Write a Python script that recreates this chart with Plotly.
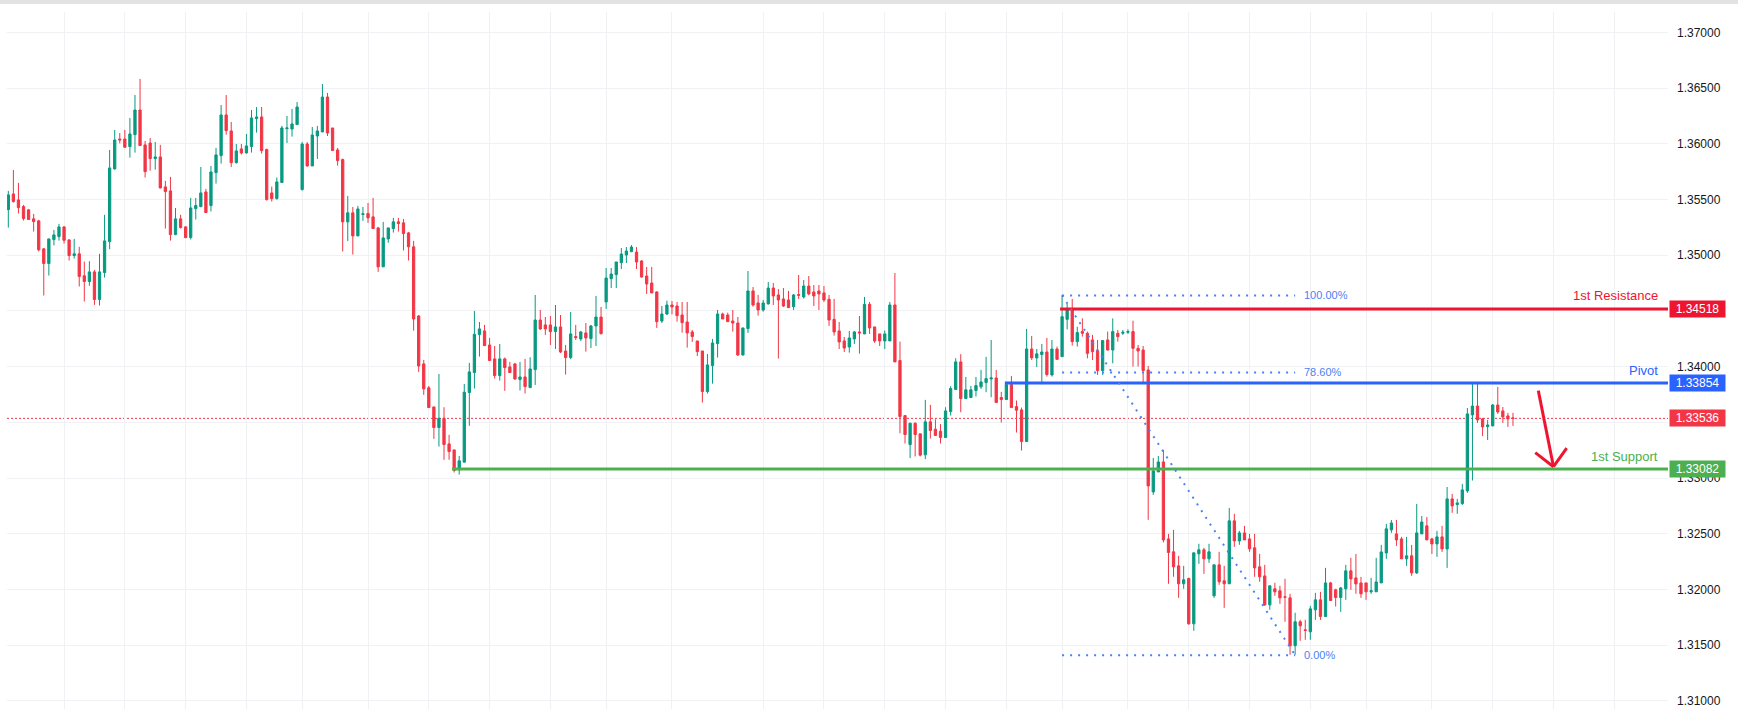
import plotly.graph_objects as go

# ---------------- data ----------------
opens = [
 1.35410, 1.35551, 1.35497, 1.35437, 1.35408, 1.35327, 1.35309, 1.35058, 1.34926, 1.35141,
 1.35168, 1.35255, 1.35138, 1.34998, 1.35013, 1.34816, 1.34765, 1.34851, 1.34603, 1.34845,
 1.35123, 1.35775, 1.36044, 1.36044, 1.35976, 1.36083, 1.36304, 1.35991, 1.36008, 1.35868,
 1.35883, 1.35614, 1.35578, 1.35186, 1.35327, 1.35255, 1.35159, 1.35419, 1.35437, 1.35569,
 1.35446, 1.35742, 1.35895, 1.36260, 1.36116, 1.35832, 1.35955, 1.35919, 1.35976, 1.36227,
 1.36242, 1.35949, 1.35560, 1.35509, 1.35653, 1.36137, 1.36134, 1.36173, 1.35590, 1.35999,
 1.35802, 1.36071, 1.36107, 1.36421, 1.36143, 1.35946, 1.35859, 1.35300, 1.35381, 1.35174,
 1.35366, 1.35375, 1.35345, 1.35246, 1.34896, 1.35147, 1.35240, 1.35300, 1.35291, 1.35201,
 1.35076, 1.34455, 1.34025, 1.33810, 1.33639, 1.33454, 1.33537, 1.33307, 1.33253, 1.33074,
 1.33143, 1.33768, 1.33947, 1.34288, 1.34321, 1.34195, 1.34070, 1.33920, 1.34070, 1.33998,
 1.34025, 1.33884, 1.33908, 1.33812, 1.33974, 1.34419, 1.34375, 1.34375, 1.34315, 1.34357,
 1.34141, 1.34082, 1.34270, 1.34249, 1.34303, 1.34252, 1.34366, 1.34446, 1.34581, 1.34790,
 1.34826, 1.34934, 1.35002, 1.35032, 1.35029, 1.34949, 1.34814, 1.34751, 1.34671, 1.34410,
 1.34473, 1.34554, 1.34545, 1.34464, 1.34401, 1.34312, 1.34231, 1.34141, 1.33777, 1.34010,
 1.34207, 1.34473, 1.34464, 1.34410, 1.34392, 1.34105, 1.34342, 1.34680, 1.34572, 1.34509,
 1.34563, 1.34706, 1.34644, 1.34608, 1.34599, 1.34539, 1.34647, 1.34626, 1.34724, 1.34671,
 1.34680, 1.34662, 1.34605, 1.34425, 1.34321, 1.34231, 1.34177, 1.34249, 1.34312, 1.34294,
 1.34560, 1.34357, 1.34294, 1.34231, 1.34231, 1.34554, 1.34055, 1.33561, 1.33301, 1.33493,
 1.33397, 1.33209, 1.33505, 1.33439, 1.33421, 1.33364, 1.33597, 1.33795, 1.34043, 1.33714,
 1.33723, 1.33786, 1.33819, 1.33857, 1.33890, 1.33899, 1.33723, 1.33705, 1.33839, 1.33642,
 1.33612, 1.33328, 1.34159, 1.34079, 1.34109, 1.34132, 1.33926, 1.34159, 1.34090, 1.34425,
 1.34515, 1.34225, 1.34315, 1.34300, 1.34240, 1.34144, 1.33965, 1.34240, 1.34150, 1.34300,
 1.34300, 1.34309, 1.34315, 1.34165, 1.34150, 1.33970, 1.32876, 1.33055, 1.33145, 1.32454,
 1.32338, 1.32212, 1.32051, 1.32099, 1.31692, 1.32320, 1.32356, 1.32275, 1.31943, 1.32221,
 1.32078, 1.32051, 1.32616, 1.32436, 1.32508, 1.32454, 1.32374, 1.32203, 1.32122, 1.31862,
 1.32006, 1.31988, 1.31934, 1.31925, 1.31495, 1.31710, 1.31638, 1.31620, 1.31817, 1.31907,
 1.31757, 1.32059, 1.31997, 1.31928, 1.32006, 1.32167, 1.32104, 1.32059, 1.32059, 1.31979,
 1.31979, 1.32059, 1.32328, 1.32535, 1.32499, 1.32454, 1.32275, 1.32302, 1.32149, 1.32499,
 1.32571, 1.32454, 1.32409, 1.32472, 1.32364, 1.32813, 1.32762, 1.32771, 1.32885, 1.33567,
 1.33647, 1.33531, 1.33462, 1.33468, 1.33656, 1.33603, 1.33558, 1.33540,
]
highs = [
 1.35578, 1.35766, 1.35650, 1.35452, 1.35416, 1.35372, 1.35318, 1.35064, 1.35147, 1.35228,
 1.35282, 1.35261, 1.35144, 1.35147, 1.35076, 1.34944, 1.34947, 1.34869, 1.35013, 1.35363,
 1.35946, 1.36125, 1.36098, 1.36125, 1.36233, 1.36439, 1.36583, 1.36026, 1.36053, 1.36017,
 1.35991, 1.35668, 1.35704, 1.35425, 1.35363, 1.35261, 1.35515, 1.35515, 1.35793, 1.35596,
 1.35802, 1.35964, 1.36349, 1.36439, 1.36197, 1.35999, 1.35999, 1.36089, 1.36304, 1.36331,
 1.36331, 1.35958, 1.35617, 1.35698, 1.36161, 1.36251, 1.36314, 1.36376, 1.36017, 1.36017,
 1.36152, 1.36161, 1.36538, 1.36457, 1.36143, 1.35964, 1.35868, 1.35533, 1.35434, 1.35443,
 1.35434, 1.35470, 1.35515, 1.35255, 1.35300, 1.35246, 1.35336, 1.35336, 1.35327, 1.35210,
 1.35129, 1.34464, 1.34061, 1.33827, 1.33639, 1.33935, 1.33636, 1.33388, 1.33253, 1.33199,
 1.33845, 1.34034, 1.34500, 1.34401, 1.34375, 1.34258, 1.34186, 1.34204, 1.34082, 1.34043,
 1.34034, 1.34043, 1.34070, 1.34085, 1.34644, 1.34509, 1.34446, 1.34455, 1.34554, 1.34464,
 1.34195, 1.34491, 1.34375, 1.34321, 1.34392, 1.34375, 1.34635, 1.34536, 1.34886, 1.34886,
 1.34940, 1.35065, 1.35074, 1.35092, 1.35074, 1.34958, 1.34895, 1.34895, 1.34677, 1.34545,
 1.34593, 1.34590, 1.34581, 1.34581, 1.34581, 1.34330, 1.34231, 1.34141, 1.34114, 1.34249,
 1.34509, 1.34485, 1.34485, 1.34509, 1.34446, 1.34348, 1.34859, 1.34715, 1.34644, 1.34599,
 1.34760, 1.34751, 1.34697, 1.34706, 1.34680, 1.34653, 1.34823, 1.34778, 1.34814, 1.34733,
 1.34733, 1.34724, 1.34644, 1.34608, 1.34401, 1.34267, 1.34321, 1.34321, 1.34455, 1.34626,
 1.34581, 1.34357, 1.34294, 1.34324, 1.34581, 1.34841, 1.34225, 1.33561, 1.33493, 1.33499,
 1.33397, 1.33702, 1.33657, 1.33528, 1.33484, 1.33636, 1.33825, 1.34076, 1.34112, 1.33908,
 1.33827, 1.33908, 1.33971, 1.34088, 1.34240, 1.33971, 1.33774, 1.33863, 1.33917, 1.33696,
 1.33633, 1.34339, 1.34276, 1.34159, 1.34204, 1.34258, 1.34240, 1.34180, 1.34643, 1.34563,
 1.34608, 1.34359, 1.34434, 1.34315, 1.34285, 1.34240, 1.34240, 1.34315, 1.34434, 1.34330,
 1.34330, 1.34335, 1.34413, 1.34195, 1.34186, 1.34007, 1.33181, 1.33199, 1.33253, 1.32499,
 1.32535, 1.32302, 1.32212, 1.32105, 1.32329, 1.32410, 1.32374, 1.32410, 1.32221, 1.32338,
 1.32212, 1.32732, 1.32679, 1.32526, 1.32571, 1.32499, 1.32499, 1.32320, 1.32221, 1.32033,
 1.32060, 1.32033, 1.32096, 1.31961, 1.31791, 1.31728, 1.31728, 1.31853, 1.31970, 1.31979,
 1.32194, 1.32068, 1.32006, 1.32023, 1.32221, 1.32284, 1.32319, 1.32113, 1.32059, 1.32104,
 1.32284, 1.32400, 1.32589, 1.32624, 1.32624, 1.32472, 1.32472, 1.32400, 1.32768, 1.32660,
 1.32651, 1.32463, 1.32526, 1.32571, 1.32920, 1.32858, 1.32813, 1.32948, 1.33629, 1.33845,
 1.33854, 1.33540, 1.33522, 1.33665, 1.33818, 1.33638, 1.33585, 1.33585,
]
lows = [
 1.35249, 1.35473, 1.35375, 1.35312, 1.35318, 1.35213, 1.35034, 1.34639, 1.34818, 1.35088,
 1.35132, 1.35105, 1.34953, 1.34971, 1.34720, 1.34585, 1.34726, 1.34555, 1.34549, 1.34800,
 1.35055, 1.35769, 1.36005, 1.35964, 1.35877, 1.35922, 1.35985, 1.35698, 1.35760, 1.35769,
 1.35599, 1.35240, 1.35132, 1.35180, 1.35240, 1.35153, 1.35141, 1.35321, 1.35431, 1.35384,
 1.35393, 1.35644, 1.35823, 1.36083, 1.35793, 1.35823, 1.35904, 1.35913, 1.35922, 1.36101,
 1.35913, 1.35491, 1.35482, 1.35500, 1.35653, 1.36008, 1.36065, 1.36173, 1.35581, 1.35796,
 1.35802, 1.35865, 1.36107, 1.36071, 1.35940, 1.35805, 1.35034, 1.35129, 1.35007, 1.35174,
 1.35309, 1.35291, 1.35240, 1.34851, 1.34896, 1.35112, 1.35204, 1.35213, 1.35043, 1.34953,
 1.34324, 1.33953, 1.33747, 1.33633, 1.33352, 1.33283, 1.33164, 1.33164, 1.33050, 1.33032,
 1.33143, 1.33469, 1.33804, 1.34091, 1.34189, 1.34055, 1.33893, 1.33875, 1.33783, 1.33947,
 1.33881, 1.33786, 1.33759, 1.33812, 1.33836, 1.34330, 1.34285, 1.34195, 1.34159, 1.34123,
 1.33929, 1.34067, 1.34240, 1.34231, 1.34135, 1.34168, 1.34186, 1.34288, 1.34518, 1.34706,
 1.34706, 1.34877, 1.34931, 1.35032, 1.34877, 1.34799, 1.34653, 1.34662, 1.34348, 1.34392,
 1.34464, 1.34470, 1.34404, 1.34306, 1.34171, 1.34222, 1.34096, 1.33678, 1.33759, 1.33848,
 1.34082, 1.34428, 1.34404, 1.34315, 1.34096, 1.34102, 1.34303, 1.34539, 1.34458, 1.34494,
 1.34560, 1.34554, 1.34073, 1.34536, 1.34530, 1.34509, 1.34608, 1.34611, 1.34641, 1.34545,
 1.34509, 1.34581, 1.34366, 1.34279, 1.34159, 1.34132, 1.34126, 1.34204, 1.34117, 1.34294,
 1.34294, 1.34213, 1.34186, 1.34159, 1.34231, 1.34043, 1.33403, 1.33310, 1.33179, 1.33194,
 1.33194, 1.33170, 1.33355, 1.33382, 1.33310, 1.33364, 1.33561, 1.33795, 1.33591, 1.33714,
 1.33720, 1.33732, 1.33801, 1.33771, 1.33726, 1.33678, 1.33499, 1.33705, 1.33633, 1.33409,
 1.33247, 1.33328, 1.34061, 1.33998, 1.33842, 1.33911, 1.33911, 1.34060, 1.34090, 1.34335,
 1.34189, 1.34180, 1.34270, 1.34075, 1.34060, 1.33926, 1.33926, 1.34144, 1.34030, 1.34225,
 1.34285, 1.34294, 1.34001, 1.34001, 1.33857, 1.32625, 1.32849, 1.33055, 1.32422, 1.32051,
 1.32114, 1.31925, 1.32006, 1.31683, 1.31629, 1.32230, 1.32140, 1.32239, 1.31925, 1.32042,
 1.31835, 1.32051, 1.32383, 1.32401, 1.32445, 1.32338, 1.32114, 1.32069, 1.31853, 1.31818,
 1.31943, 1.31871, 1.31710, 1.31414, 1.31414, 1.31539, 1.31548, 1.31548, 1.31727, 1.31727,
 1.31757, 1.31901, 1.31847, 1.31799, 1.31907, 1.31997, 1.31961, 1.31925, 1.31907, 1.31961,
 1.31979, 1.32059, 1.32275, 1.32508, 1.32391, 1.32275, 1.32212, 1.32122, 1.32140, 1.32499,
 1.32445, 1.32319, 1.32293, 1.32337, 1.32194, 1.32688, 1.32679, 1.32759, 1.32867, 1.32978,
 1.33495, 1.33378, 1.33342, 1.33468, 1.33576, 1.33495, 1.33459, 1.33468,
]
closes = [
 1.35542, 1.35482, 1.35428, 1.35330, 1.35321, 1.35303, 1.35049, 1.34926, 1.35147, 1.35183,
 1.35255, 1.35135, 1.34998, 1.35013, 1.34810, 1.34765, 1.34851, 1.34603, 1.34851, 1.35129,
 1.35784, 1.36035, 1.36035, 1.35970, 1.36089, 1.36304, 1.35985, 1.35751, 1.35868, 1.35883,
 1.35605, 1.35572, 1.35186, 1.35327, 1.35249, 1.35159, 1.35425, 1.35446, 1.35560, 1.35384,
 1.35748, 1.35901, 1.36260, 1.36119, 1.35832, 1.35937, 1.35919, 1.35982, 1.36233, 1.36242,
 1.35940, 1.35500, 1.35509, 1.35659, 1.36143, 1.36143, 1.36179, 1.36331, 1.35999, 1.35802,
 1.36080, 1.36116, 1.36421, 1.36098, 1.35940, 1.35850, 1.35300, 1.35381, 1.35174, 1.35416,
 1.35372, 1.35336, 1.35240, 1.34896, 1.35156, 1.35246, 1.35300, 1.35285, 1.35195, 1.35076,
 1.34428, 1.34007, 1.33801, 1.33633, 1.33454, 1.33537, 1.33301, 1.33238, 1.33068, 1.33155,
 1.33771, 1.33953, 1.34291, 1.34339, 1.34189, 1.34055, 1.33920, 1.34070, 1.33992, 1.33947,
 1.33890, 1.33908, 1.33821, 1.33980, 1.34419, 1.34339, 1.34339, 1.34315, 1.34357, 1.34132,
 1.34082, 1.34294, 1.34261, 1.34312, 1.34258, 1.34366, 1.34446, 1.34297, 1.34796, 1.34832,
 1.34940, 1.35011, 1.35038, 1.35074, 1.34940, 1.34805, 1.34742, 1.34662, 1.34404, 1.34473,
 1.34554, 1.34536, 1.34458, 1.34395, 1.34303, 1.34270, 1.34135, 1.33777, 1.34016, 1.34213,
 1.34473, 1.34428, 1.34404, 1.34392, 1.34105, 1.34348, 1.34680, 1.34554, 1.34509, 1.34572,
 1.34706, 1.34635, 1.34599, 1.34545, 1.34530, 1.34644, 1.34641, 1.34724, 1.34653, 1.34635,
 1.34653, 1.34599, 1.34419, 1.34312, 1.34222, 1.34168, 1.34258, 1.34312, 1.34303, 1.34560,
 1.34348, 1.34231, 1.34231, 1.34294, 1.34554, 1.34043, 1.33552, 1.33391, 1.33493, 1.33391,
 1.33206, 1.33505, 1.33427, 1.33382, 1.33364, 1.33603, 1.33804, 1.34043, 1.33714, 1.33792,
 1.33792, 1.33830, 1.33863, 1.33893, 1.33899, 1.33678, 1.33705, 1.33839, 1.33633, 1.33609,
 1.33328, 1.34159, 1.34079, 1.34115, 1.34132, 1.33929, 1.34159, 1.34066, 1.34449, 1.34515,
 1.34225, 1.34306, 1.34300, 1.34120, 1.34135, 1.33965, 1.34234, 1.34150, 1.34315, 1.34270,
 1.34309, 1.34315, 1.34165, 1.34141, 1.33965, 1.32930, 1.33064, 1.33145, 1.32445, 1.32332,
 1.32203, 1.32051, 1.32087, 1.31692, 1.32329, 1.32356, 1.32275, 1.32338, 1.32221, 1.32069,
 1.32051, 1.32616, 1.32436, 1.32508, 1.32445, 1.32365, 1.32194, 1.32114, 1.31862, 1.32033,
 1.31979, 1.31925, 1.31931, 1.31495, 1.31710, 1.31674, 1.31632, 1.31826, 1.31907, 1.31757,
 1.32059, 1.31901, 1.31928, 1.32014, 1.32167, 1.32095, 1.32050, 1.31961, 1.31979, 1.31988,
 1.32068, 1.32337, 1.32544, 1.32597, 1.32445, 1.32275, 1.32302, 1.32149, 1.32508, 1.32606,
 1.32445, 1.32409, 1.32472, 1.32364, 1.32813, 1.32750, 1.32777, 1.32894, 1.33576, 1.33647,
 1.33522, 1.33459, 1.33477, 1.33656, 1.33594, 1.33549, 1.33531, 1.33536,
]

price_ticks = [1.310, 1.315, 1.320, 1.325, 1.330, 1.335, 1.340, 1.345,
               1.350, 1.355, 1.360, 1.365, 1.370]
# tick labels hidden by the price-axis label boxes (as in the reference)
hidden_ticks = [1.335, 1.345]
grid_candles = [11, 23, 35, 47, 58, 71, 83, 95, 107, 118, 131, 149, 161, 173,
                185, 197, 208, 221, 233, 245, 257, 268, 281, 293, 305, 317]

level_names = ["1st Resistance", "Pivot", "1st Support"]
level_values = [1.34518, 1.33854, 1.33082]
last_price = 1.33536

fib_high = 1.34640
fib_low = 1.31410
fib_ratios = [1.0, 0.786, 0.0]
fib_labels = ["100.00%", "78.60%", "0.00%"]

# ---------------- styles ----------------
UP = "#089981"
DOWN = "#f23645"
RES_C = "#ee1530"
PIV_C = "#2962ff"
SUP_C = "#4caf50"
FIB_C = "#4a82f5"
GRID_C = "#eff1f4"
FONT = "Liberation Sans, Arial, sans-serif"
level_colors = [RES_C, PIV_C, SUP_C]
level_starts = [207.6, 196.7, 87.6]
level_label_shift = [13.5, 12.5, 12]
fib_start, fib_end = 208, 254

X0, X1 = -0.26, 327.6
Y0, Y1 = 1.30927, 1.37184

x = list(range(len(opens)))

fig = go.Figure()
fig.add_trace(go.Candlestick(
    x=x, open=opens, high=highs, low=lows, close=closes,
    increasing=dict(line=dict(color=UP, width=1), fillcolor=UP),
    decreasing=dict(line=dict(color=DOWN, width=1), fillcolor=DOWN),
    whiskerwidth=0, showlegend=False, hoverinfo="skip",
))

shapes = []
# current price dotted line
shapes.append(dict(type="line", xref="paper", yref="y", x0=0, x1=1,
                   y0=last_price, y1=last_price, layer="between",
                   line=dict(color=DOWN, width=1, dash="2px,2px")))
# level lines
for v, c, s in zip(level_values, level_colors, level_starts):
    shapes.append(dict(type="line", xref="x", yref="y", x0=s, x1=X1, y0=v, y1=v,
                       layer="above", line=dict(color=c, width=3)))
# fib levels
rng = fib_high - fib_low
fib_prices = [fib_low + r * rng for r in fib_ratios]
for p in fib_prices:
    shapes.append(dict(type="line", xref="x", yref="y", x0=fib_start, x1=fib_end,
                       y0=p, y1=p, layer="above",
                       line=dict(color=FIB_C, width=2, dash="2px,6px")))
shapes.append(dict(type="line", xref="x", yref="y", x0=fib_start, x1=fib_end,
                   y0=fib_high, y1=fib_low, layer="above",
                   line=dict(color=FIB_C, width=2, dash="2px,6px")))
# red arrow
arrow_tip = (305.0, 1.33102)
for (ax_, ay_) in [(302.0, 1.33785), (301.4, 1.33228), (307.6, 1.33268)]:
    shapes.append(dict(type="line", xref="x", yref="y", x0=ax_, y0=ay_,
                       x1=arrow_tip[0], y1=arrow_tip[1], layer="above",
                       line=dict(color=RES_C, width=3)))
# top strip
shapes.append(dict(type="rect", xref="paper", yref="paper", x0=-0.01, x1=1.05,
                   y0=1 + 8 / 697, y1=1 + 12.5 / 697, layer="above",
                   fillcolor="#e2e2e2", line=dict(width=0)))

annotations = []
# price boxes on the axis
box_vals = level_values + [last_price]
box_cols = level_colors + [DOWN]
for v, c in zip(box_vals, box_cols):
    annotations.append(dict(xref="paper", yref="y", x=1, y=v, xanchor="left",
                            yanchor="middle", xshift=1, text=f"{v:.5f}",
                            showarrow=False, bgcolor=c, borderpad=1,
                            width=53, height=14,
                            font=dict(family=FONT, size=12, color="white")))
# level text labels
for n, v, c, sh in zip(level_names, level_values, level_colors, level_label_shift):
    annotations.append(dict(xref="paper", yref="y", x=1, y=v, xanchor="right",
                            yanchor="middle", xshift=-8, yshift=sh, text=n,
                            showarrow=False,
                            font=dict(family=FONT, size=13, color=c)))
# fib labels
for p, t in zip(fib_prices, fib_labels):
    annotations.append(dict(xref="x", yref="y", x=fib_end, y=p, xanchor="left",
                            yanchor="middle", xshift=7, text=t, showarrow=False,
                            font=dict(family=FONT, size=11, color=FIB_C)))

tick_text = ["" if any(abs(t - h) < 1e-9 for h in hidden_ticks) else f"{t:.5f}"
             for t in price_ticks]

fig.update_layout(
    width=1738, height=717,
    margin=dict(l=7, r=70, t=12, b=8),
    paper_bgcolor="white", plot_bgcolor="white",
    boxgap=0.55, boxgroupgap=0,
    showlegend=False,
    shapes=shapes, annotations=annotations,
    xaxis=dict(range=[X0, X1], rangeslider=dict(visible=False),
               tickvals=grid_candles, showticklabels=False, ticks="",
               showgrid=True, gridcolor=GRID_C, gridwidth=1, zeroline=False,
               showline=False, fixedrange=True),
    yaxis=dict(range=[Y0, Y1], side="right", tickvals=price_ticks,
               ticktext=tick_text, ticks="",
               ticklabelstandoff=8,
               tickfont=dict(family=FONT, size=12, color="#131722"),
               showgrid=True, gridcolor=GRID_C, gridwidth=1, zeroline=False,
               showline=False, fixedrange=True),
)

fig.write_html("out.html", config={"displayModeBar": False})
